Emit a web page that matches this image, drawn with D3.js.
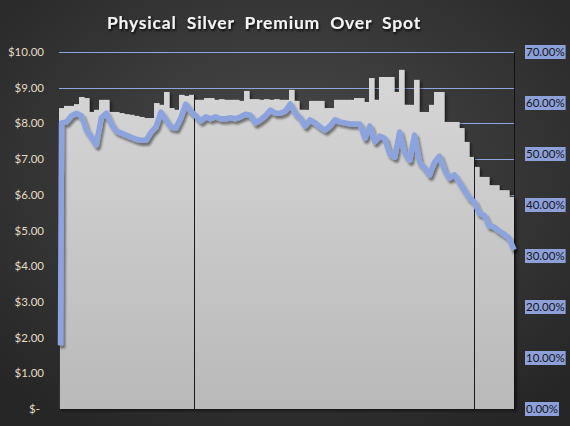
<!DOCTYPE html>
<html>
<head>
<meta charset="utf-8">
<script src="https://cdn.jsdelivr.net/npm/d3@7"></script>
<style>
  html, body { margin: 0; padding: 0; background: #2a2a2a; }
  svg { display: block; }
  text { font-family: Lato, "Open Sans", sans-serif; }
</style>
</head>
<body>
<svg id="chart" width="570" height="426"></svg>
<script>
// Premium in dollars per ounce (grey columns, left axis)
const premiumDollars = [
    8.43, 8.49, 8.49, 8.54, 8.74, 8.71, 8.32, 8.38, 8.66, 8.66,
    8.32, 8.32, 8.29, 8.26, 8.24, 8.21, 8.18, 8.15, 8.15, 8.57,
    8.52, 8.88, 8.43, 8.38, 8.80, 8.77, 8.80, 8.66, 8.66, 8.71,
    8.71, 8.66, 8.68, 8.66, 8.66, 8.66, 8.63, 8.91, 8.68, 8.68,
    8.66, 8.68, 8.66, 8.68, 8.66, 8.66, 8.94, 8.63, 8.38, 8.38,
    8.63, 8.63, 8.63, 8.43, 8.43, 8.66, 8.66, 8.66, 8.66, 8.71,
    8.71, 8.60, 9.27, 8.66, 9.30, 9.30, 9.30, 8.88, 9.50, 8.52,
    8.52, 9.22, 8.32, 8.32, 8.52, 8.88, 8.88, 8.04, 8.04, 8.04,
    7.87, 7.48, 7.06, 6.78, 6.50, 6.50, 6.27, 6.27, 6.13, 6.13,
    5.94
];

// Premium as percent of spot (blue line, right axis)
const premiumPercent = [
    12.5, 56.1, 56.3, 57.5, 58.0, 57.5, 54.7, 53.3, 51.8, 57.1,
    58.0, 55.9, 54.5, 54.1, 53.7, 53.3, 52.9, 52.7, 52.7, 54.3,
    55.3, 58.2, 56.7, 55.3, 55.1, 57.1, 59.8, 58.4, 57.5, 56.5,
    57.3, 56.9, 57.3, 56.9, 56.9, 57.1, 56.9, 57.3, 57.8, 57.6,
    56.1, 56.7, 57.5, 58.6, 58.0, 58.0, 58.4, 59.8, 58.0, 57.1,
    55.5, 56.7, 56.1, 55.3, 54.7, 55.5, 56.7, 56.3, 56.1, 55.9,
    55.9, 55.9, 53.1, 55.5, 52.4, 53.5, 53.1, 50.0, 49.4, 54.3,
    50.2, 48.8, 53.7, 48.4, 47.3, 45.9, 48.4, 49.6, 46.9, 45.3,
    45.9, 44.5, 42.9, 41.4, 40.6, 38.4, 38.0, 35.9, 35.7, 34.9,
    34.3, 33.5, 31.2
];

// period dividers (column index)
const dividers = [27, 83];

const leftTicks = [0, 1, 2, 3, 4, 5, 6, 7, 8, 9, 10];
const rightTicks = [0, 10, 20, 30, 40, 50, 60, 70];
const title = "Physical  Silver  Premium  Over  Spot";

const svg = d3.select("#chart");
const W = 570, H = 426;
const plot = { left: 59, right: 514, top: 52, bottom: 409 };

const defs = svg.append("defs");

const bg = defs.append("radialGradient").attr("id", "bg")
    .attr("cx", "50%").attr("cy", "40%").attr("r", "70%");
bg.append("stop").attr("offset", "0%").attr("stop-color", "#4b4b4b");
bg.append("stop").attr("offset", "100%").attr("stop-color", "#262626");

const areaGrad = defs.append("linearGradient").attr("id", "areaGrad")
    .attr("gradientUnits", "userSpaceOnUse")
    .attr("x1", 0).attr("y1", plot.top).attr("x2", 0).attr("y2", plot.bottom);
areaGrad.append("stop").attr("offset", "0%").attr("stop-color", "#d8d8d8");
areaGrad.append("stop").attr("offset", "100%").attr("stop-color", "#b9b9b9");

function shadow(id, dx, dy, blur, op) {
    const f = defs.append("filter").attr("id", id)
        .attr("x", "-10%").attr("y", "-10%").attr("width", "130%").attr("height", "130%");
    f.append("feDropShadow").attr("dx", dx).attr("dy", dy)
        .attr("stdDeviation", blur).attr("flood-color", "#000").attr("flood-opacity", op);
}
shadow("lineShadow", 2, 3, 1.3, 0.45);
shadow("areaShadow", 2, 2, 1.5, 0.5);
shadow("titleShadow", 1, 2, 1, 0.8);

svg.append("rect").attr("width", W).attr("height", H).attr("fill", "url(#bg)");

// scales
const n = premiumDollars.length;
const x = d3.scaleLinear().domain([0, n]).range([plot.left, plot.right]);
// line starts with a near-vertical jump at the left edge
const xLine = d3.scaleLinear().domain([1, premiumPercent.length - 1]).range([plot.left + 2.5, plot.right]);
const yL = d3.scaleLinear().domain([0, 10]).range([plot.bottom, plot.top]);
const yR = d3.scaleLinear().domain([0, 70]).range([plot.bottom, plot.top]);

// gridlines
svg.append("g").selectAll("line").data(leftTicks.filter(d => d > 0)).join("line")
    .attr("x1", plot.left).attr("x2", plot.right)
    .attr("y1", d => Math.round(yL(d)) + 0.5).attr("y2", d => Math.round(yL(d)) + 0.5)
    .attr("stroke", "#8ea4de").attr("stroke-width", 1);

// columns
svg.append("g").attr("filter", "url(#areaShadow)")
    .selectAll("rect").data(premiumDollars).join("rect")
    .attr("x", (d, i) => x(i))
    .attr("width", (d, i) => x(i + 1) - x(i) + 0.6)
    .attr("y", d => yL(d))
    .attr("height", d => yL(0) - yL(d))
    .attr("fill", "url(#areaGrad)");

// dividers
svg.append("g").selectAll("line").data(dividers).join("line")
    .attr("x1", d => Math.round(x(d)) + 0.5).attr("x2", d => Math.round(x(d)) + 0.5)
    .attr("y1", d => yL(Math.max(premiumDollars[d], premiumDollars[d - 1])))
    .attr("y2", plot.bottom)
    .attr("stroke", "#1a1a1a").attr("stroke-width", 1);

// right axis line
svg.append("line")
    .attr("x1", plot.right + 0.5).attr("x2", plot.right + 0.5)
    .attr("y1", plot.top).attr("y2", plot.bottom)
    .attr("stroke", "#111").attr("stroke-width", 1);

// left axis line (short, low part visible)
svg.append("line")
    .attr("x1", plot.left + 0.5).attr("x2", plot.left + 0.5)
    .attr("y1", yR(premiumPercent[0])).attr("y2", plot.bottom)
    .attr("stroke", "#333").attr("stroke-width", 1);

// percent line
const line = d3.line()
    .x((d, i) => i === 0 ? plot.left + 1.5 : xLine(i))
    .y(d => yR(d));

svg.append("path").datum(premiumPercent)
    .attr("d", line)
    .attr("fill", "none")
    .attr("stroke", "#8da3de")
    .attr("stroke-width", 5.5)
    .attr("stroke-linejoin", "round")
    .attr("filter", "url(#lineShadow)");

// left axis labels
const fmtDollar = d => d === 0 ? "$-" : "$" + d.toFixed(2);
svg.append("g").selectAll("text").data(leftTicks).join("text")
    .attr("x", d => d === 0 ? 40 : 44)
    .attr("y", d => yL(d))
    .attr("dy", "0.35em")
    .attr("text-anchor", "end")
    .attr("font-size", 11.5)
    .attr("fill", "#e4dcc4")
    .text(fmtDollar);

// right axis labels with highlight
const rg = svg.append("g");
rightTicks.forEach(d => {
    const t = rg.append("text")
        .attr("x", 526)
        .attr("y", yR(d))
        .attr("dy", "0.35em")
        .attr("font-size", 11.5)
        .attr("fill", "#161620")
        .text(d.toFixed(2) + "%");
    const b = t.node().getBBox();
    rg.insert("rect", "text")
        .attr("x", b.x - 1).attr("y", yR(d) - 7)
        .attr("width", b.width + 2).attr("height", 14)
        .attr("fill", "#8da0da");
});

// title
svg.append("text")
    .attr("x", 264).attr("y", 29)
    .attr("text-anchor", "middle")
    .attr("font-size", 17.5)
    .attr("font-weight", "bold")
    .attr("letter-spacing", 0.8)
    .attr("fill", "#f4f4f4")
    .attr("filter", "url(#titleShadow)")
    .style("white-space", "pre")
    .text(title);
</script>
</body>
</html>
